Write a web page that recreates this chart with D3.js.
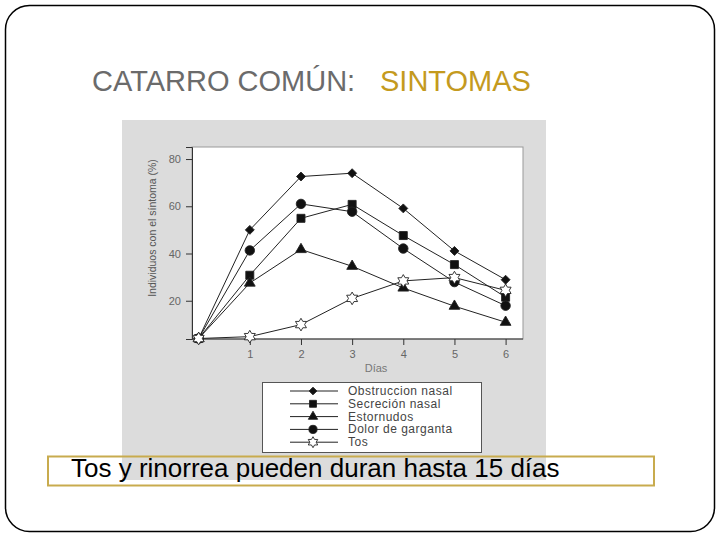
<!DOCTYPE html>
<html>
<head>
<meta charset="utf-8">
<script src="https://cdn.jsdelivr.net/npm/d3@7"></script>
<style>
  body { margin: 0; background: #fff; }
  svg { display: block; }
</style>
</head>
<body>
<svg id="chart" width="720" height="540"></svg>
<script>
const days = [0, 1, 2, 3, 4, 5, 6]
const xTicks = [1, 2, 3, 4, 5, 6]
const yTicks = [20, 40, 60, 80]

const obstruccion = [4, 50, 72.6, 74, 59.1, 41.1, 28.9]
const secrecion = [4, 30.8, 54.9, 60.8, 47.6, 35.3, 21.5]
const estornudos = [4, 27.5, 41.7, 34.6, 25.4, 17.7, 10.9]
const dolor = [4, 41.3, 61, 57.7, 42.1, 27.9, 17.9]
const tos = [4, 4.8, 9.9, 21, 28.4, 29.8, 24.4]

const seriesNames = ["Obstruccion nasal", "Secreción nasal", "Estornudos", "Dolor de garganta", "Tos"]

// hexagram outline for "Tos"
const symbolHexStar = {
  draw(context, size) {
    const r = Math.sqrt(size / 1.5)
    const ri = r * 0.58
    for (let i = 0; i < 12; i++) {
      const a = Math.PI / 6 * i - Math.PI / 2
      const rr = i % 2 === 0 ? r : ri
      if (i === 0) context.moveTo(rr * Math.cos(a), rr * Math.sin(a))
      else context.lineTo(rr * Math.cos(a), rr * Math.sin(a))
    }
    context.closePath()
  }
}

// square turned 45 degrees
const symbolRhomb = {
  draw(context, size) {
    const r = Math.sqrt(size / 2)
    context.moveTo(0, -r)
    context.lineTo(r, 0)
    context.lineTo(0, r)
    context.lineTo(-r, 0)
    context.closePath()
  }
}

const series = [
  { name: seriesNames[0], values: obstruccion, symbol: symbolRhomb, size: 40, fill: "#111" },
  { name: seriesNames[1], values: secrecion, symbol: d3.symbolSquare, size: 64, fill: "#111" },
  { name: seriesNames[2], values: estornudos, symbol: d3.symbolTriangle, size: 50, fill: "#111" },
  { name: seriesNames[3], values: dolor, symbol: d3.symbolCircle, size: 70, fill: "#111" },
  { name: seriesNames[4], values: tos, symbol: symbolHexStar, size: 60, fill: "#fff" }
]

var svg = d3.select("#chart")

// slide frame
svg.append("rect")
  .attr("x", 5.5).attr("y", 5.5)
  .attr("width", 709).attr("height", 526)
  .attr("rx", 24).attr("ry", 24)
  .attr("fill", "#fff")
  .attr("stroke", "#000")
  .attr("stroke-width", 1.5)

// title
var titleFont = "'Liberation Sans', Arial, sans-serif"
svg.append("text")
  .attr("x", 92).attr("y", 91)
  .attr("fill", "#6b6b6b")
  .style("font-family", titleFont)
  .style("font-size", "29px")
  .text("CATARRO COMÚN:")
svg.append("text")
  .attr("x", 380).attr("y", 91)
  .attr("fill", "#c49a1e")
  .style("font-family", titleFont)
  .style("font-size", "29px")
  .text("SINTOMAS")

// gray figure panel
svg.append("rect")
  .attr("x", 122).attr("y", 120)
  .attr("width", 424).attr("height", 360)
  .attr("fill", "#dcdcdc")

var margin = { left: 192, top: 147, right: 523, bottom: 339 }

var x = d3.scaleLinear()
  .domain([-0.13, 6.34])
  .range([margin.left, margin.right])

var y = d3.scaleLinear()
  .domain([3.8, 85.1])
  .range([margin.bottom, margin.top])

var g = svg.append("g")

g.append("rect")
  .attr("x", margin.left).attr("y", margin.top)
  .attr("width", margin.right - margin.left)
  .attr("height", margin.bottom - margin.top)
  .attr("fill", "#fff")
  .attr("stroke", "#999")
  .attr("stroke-width", 1)

var axisFont = "'Liberation Sans', Arial, sans-serif"

var yAxis = g.append("g")
  .attr("transform", "translate(" + margin.left + ",0)")
  .call(d3.axisLeft(y).tickValues(yTicks).tickSize(6).tickPadding(5))
yAxis.select(".domain").attr("stroke", "#333")
yAxis.selectAll(".tick line").attr("stroke", "#333")
yAxis.selectAll("text")
  .attr("fill", "#666")
  .style("font-family", axisFont)
  .style("font-size", "11px")

var xAxis = g.append("g")
  .attr("transform", "translate(0," + margin.bottom + ")")
  .call(d3.axisBottom(x).tickValues(xTicks).tickFormat(d3.format("d")).tickSize(6).tickPadding(5))
xAxis.select(".domain").attr("stroke", "#333")
  .attr("d", "M" + margin.left + ",0H" + margin.right)
xAxis.selectAll(".tick line").attr("stroke", "#333")
xAxis.selectAll("text")
  .attr("fill", "#666")
  .style("font-family", axisFont)
  .style("font-size", "11px")

g.append("text")
  .attr("x", 376).attr("y", 372)
  .attr("text-anchor", "middle")
  .attr("fill", "#777")
  .style("font-family", axisFont)
  .style("font-size", "11px")
  .text("Días")

g.append("text")
  .attr("transform", "translate(156,228) rotate(-90)")
  .attr("text-anchor", "middle")
  .attr("fill", "#555")
  .style("font-family", axisFont)
  .style("font-size", "10.5px")
  .text("Individuos con el síntoma (%)")

var line = d3.line()
  .x(function(d, i) { return x(days[i]) })
  .y(function(d) { return y(d) })

series.forEach(function(s) {
  g.append("path")
    .datum(s.values)
    .attr("fill", "none")
    .attr("stroke", "#222")
    .attr("stroke-width", 1)
    .attr("d", line)
})

series.forEach(function(s) {
  g.selectAll(null)
    .data(s.values)
    .enter().append("path")
    .attr("transform", function(d, i) { return "translate(" + x(days[i]) + "," + y(d) + ")" })
    .attr("d", d3.symbol().type(s.symbol).size(s.size))
    .attr("fill", s.fill)
    .attr("stroke", "#222")
    .attr("stroke-width", 0.9)
})

// legend
var legend = svg.append("g")
legend.append("rect")
  .attr("x", 262.5).attr("y", 382.5)
  .attr("width", 219).attr("height", 70)
  .attr("fill", "#fff")
  .attr("stroke", "#555")

series.forEach(function(s, i) {
  var ly = 391 + i * 12.8
  legend.append("line")
    .attr("x1", 290).attr("x2", 338)
    .attr("y1", ly).attr("y2", ly)
    .attr("stroke", "#222")
  legend.append("path")
    .attr("transform", "translate(313," + ly + ")")
    .attr("d", d3.symbol().type(s.symbol).size(s.size * 0.75))
    .attr("fill", s.fill)
    .attr("stroke", "#222")
    .attr("stroke-width", 0.9)
  legend.append("text")
    .attr("x", 348).attr("y", ly + 4)
    .attr("fill", "#444")
    .style("font-family", axisFont)
    .style("font-size", "12px")
    .style("letter-spacing", "0.5px")
    .text(s.name)
})

// caption box
svg.append("rect")
  .attr("x", 48).attr("y", 456.5)
  .attr("width", 606).attr("height", 29)
  .attr("fill", "none")
  .attr("stroke", "#c8ab4e")
  .attr("stroke-width", 2)

svg.append("text")
  .attr("x", 71).attr("y", 477)
  .attr("fill", "#000")
  .style("font-family", axisFont)
  .style("font-size", "26px")
  .text("Tos y rinorrea pueden duran hasta 15 días")
</script>
</body>
</html>
